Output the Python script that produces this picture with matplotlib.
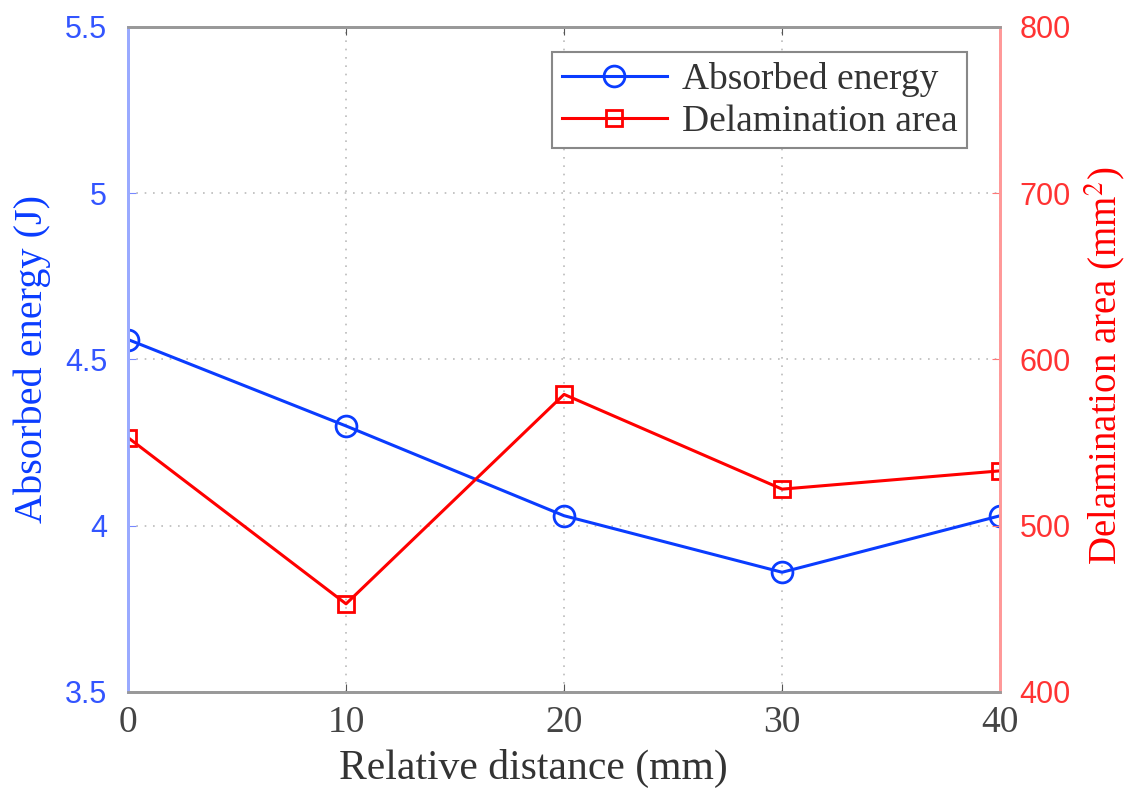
import matplotlib.pyplot as plt

distance = [0, 10, 20, 30, 40]
energy = [4.56, 4.30, 4.03, 3.86, 4.03]
area = [553, 453, 579, 522, 533]

left_ticks = [3.5, 4, 4.5, 5, 5.5]
left_labels = ["3.5", "4", "4.5", "5", "5.5"]
right_ticks = [400, 500, 600, 700, 800]

blue = "#0a3cff"
red = "#ff0000"
serif = "Liberation Serif"
sans = "Liberation Sans"
plt.rcParams["mathtext.fontset"] = "stix"

fig = plt.figure(figsize=(11.26, 7.89), dpi=100)
ax = fig.add_axes([0.1137, 0.123, 0.7745, 0.8428])
ax2 = ax.twinx()

l1, = ax.plot(distance, energy, color=blue, lw=2.2, marker="o", ms=15,
              mfc="none", mew=2, label="Absorbed energy")
l2, = ax2.plot(distance, area, color=red, lw=2.2, marker="s", ms=11,
               mfc="none", mew=2, label="Delamination area")

ax.set_xlim(0, 40)
ax.set_ylim(3.5, 5.5)
ax2.set_ylim(400, 800)
ax.set_xticks([0, 10, 20, 30, 40])
ax.set_yticks(left_ticks)
ax.set_yticklabels(left_labels)
ax2.set_yticks(right_ticks)

ax.grid(True, ls=(0, (1, 4)), color="#bbbbbb", lw=1.2)

for t in ax.get_xticklabels():
    t.set_fontfamily(serif)
    t.set_fontsize(27)
    t.set_color("#444444")
for t in ax.get_yticklabels():
    t.set_fontfamily(sans)
    t.set_fontsize(22)
    t.set_color("#3355ff")
for t in ax2.get_yticklabels():
    t.set_fontfamily(sans)
    t.set_fontsize(22)
    t.set_color("#ff3333")

ax.tick_params(axis="x", direction="in", length=6, color="#555555", top=True, pad=10)
ax.tick_params(axis="y", direction="in", length=6, color="#7788ff", pad=15)
ax2.tick_params(axis="y", direction="in", length=6, color="#ff7777", pad=14)

ax.set_xlabel("Relative distance (mm)", fontfamily=serif, fontsize=30, color="#333333")
ax.xaxis.set_label_coords(0.465, -0.085)
ax.set_ylabel("Absorbed energy (J)", fontfamily=serif, fontsize=29, color=blue)
ax.yaxis.set_label_coords(-0.088, 0.5)
ax2.set_ylabel("Delamination area (mm$^2$)", fontfamily=serif, fontsize=28, color=red)
ax2.yaxis.set_label_coords(1.094, 0.49)

for a in (ax, ax2):
    a.spines["top"].set_color("#999999")
    a.spines["bottom"].set_color("#999999")
    a.spines["left"].set_color("#99aaff")
    a.spines["right"].set_color("#ff9999")
    for s in a.spines.values():
        s.set_linewidth(2)

leg = ax2.legend(handles=[l1, l2], loc="upper right", bbox_to_anchor=(0.983, 0.99),
                 prop={"family": serif, "size": 27}, fancybox=False,
                 edgecolor="#888888", framealpha=1, handlelength=2.8,
                 borderpad=0.25, labelspacing=0.2, handletextpad=0.4)
leg.get_frame().set_linewidth(1.5)
for t in leg.get_texts():
    t.set_color("#333333")

fig.savefig("out.png", dpi=100)
